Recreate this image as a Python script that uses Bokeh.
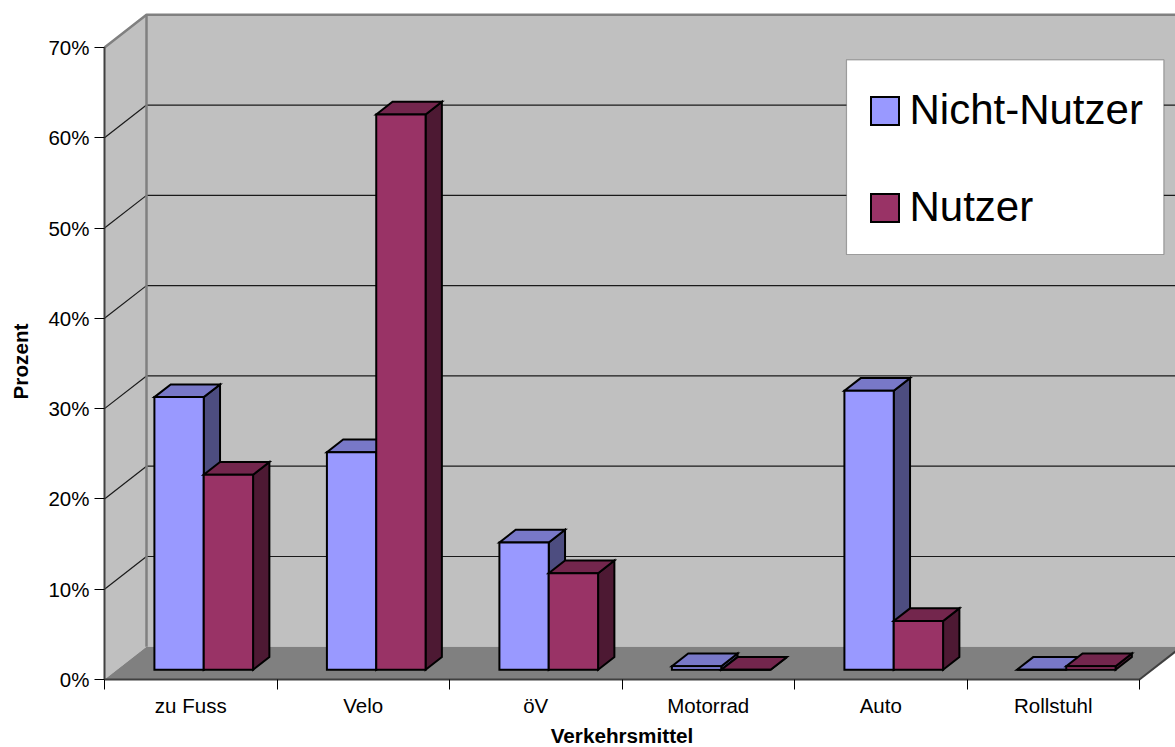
import math

from bokeh.plotting import figure
from bokeh.models import (Range1d, FixedTicker, PrintfTickFormatter, Legend,
                          LegendItem, BoxAnnotation)
from bokeh.core.properties import value
from bokeh.embed import file_html
from bokeh.resources import INLINE

# ---- data -------------------------------------------------------------
categories = ["zu Fuss", "Velo", "öV", "Motorrad", "Auto", "Rollstuhl"]
nicht_nutzer = [30.2, 24.1, 14.1, 0.4, 30.9, 0.0]
nutzer = [21.6, 61.5, 10.7, 0.0, 5.4, 0.4]
series_names = ["Nicht-Nutzer", "Nutzer"]
y_ticks = [0, 10, 20, 30, 40, 50, 60, 70]
x_title = "Verkehrsmittel"
y_title = "Prozent"

# ---- layout / 3-D projection -----------------------------------------
W, H = 1175, 747
FONT = "Liberation Sans"
TICK_SIZE = "20.5px"
TITLE_SIZE = "20.7px"
ORIGIN_PX = (104, 679)      # canvas position of the front axis corner (0, 0%)
PX_PER_CAT = 172.5          # horizontal pixels per category
PX_PER_PCT = 9.029          # vertical pixels per percent
DEPTH_X = 42 / PX_PER_CAT   # depth axis drawn obliquely (data units)
DEPTH_Y = 32.7 / PX_PER_PCT
BAR_Z = (0.297, 0.685)      # bars occupy this slice of the floor depth
BAR_OFFSET = 0.217
BAR_WIDTH = 0.286
X_TITLE_PX_Y = 735          # canvas row of the x-axis title anchor
Y_TITLE_PX = (19.5, 361)    # canvas position of the y-axis title anchor

n = len(categories)
y_max = y_ticks[-1]

FACE_COLORS = {
    "Nicht-Nutzer": ("#9999FF", "#7878C8", "#4D4D80"),
    "Nutzer": ("#993366", "#73264D", "#4D1933"),
}


def proj(x, y, z):
    return x + z * DEPTH_X, y + z * DEPTH_Y


def poly(points):
    xs, ys = zip(*(proj(*pt) for pt in points))
    return list(xs), list(ys)


def bar_faces(values, slot):
    z0, z1 = BAR_Z
    faces = {"front": ([], []), "top": ([], []), "side": ([], [])}
    for i, h in enumerate(values):
        x0 = i + BAR_OFFSET + slot * BAR_WIDTH
        x1 = x0 + BAR_WIDTH
        shapes = {
            "front": [(x0, 0, z0), (x1, 0, z0), (x1, h, z0), (x0, h, z0)],
            "top": [(x0, h, z0), (x1, h, z0), (x1, h, z1), (x0, h, z1)],
            "side": [(x1, 0, z0), (x1, 0, z1), (x1, h, z1), (x1, h, z0)],
        }
        for key, pts in shapes.items():
            xs, ys = poly(pts)
            faces[key][0].append(xs)
            faces[key][1].append(ys)
    return faces


# the frame fills the whole canvas; the axes are pinned at the origin
ox, oy = ORIGIN_PX
p = figure(width=W, height=H, output_backend="svg", toolbar_location=None,
           x_range=Range1d(-ox / PX_PER_CAT, (W - ox) / PX_PER_CAT),
           y_range=Range1d(-(H - oy) / PX_PER_PCT, oy / PX_PER_PCT),
           min_border=0)
p.outline_line_color = None
p.xgrid.visible = False
p.ygrid.visible = False
p.background_fill_color = "white"
p.border_fill_color = "white"

# ---- walls and floor --------------------------------------------------
walls = [
    poly([(0, 0, 0), (0, y_max, 0), (0, y_max, 1), (0, 0, 1)]),   # side wall
    poly([(0, 0, 1), (0, y_max, 1), (n, y_max, 1), (n, 0, 1)]),   # back wall
    poly([(0, 0, 0), (n, 0, 0), (n, 0, 1), (0, 0, 1)]),           # floor
]
p.patches([w[0] for w in walls], [w[1] for w in walls],
          fill_color=["#C0C0C0", "#C0C0C0", "#808080"], line_color=None)

# gridlines: diagonal on the side wall, horizontal on the back wall
grid_levels = y_ticks[1:-1]
gx0, gy0, gx1, gy1 = [], [], [], []
for t in grid_levels:
    a, b, c = proj(0, t, 0), proj(0, t, 1), proj(n, t, 1)
    gx0 += [a[0], b[0]]
    gy0 += [a[1], b[1]]
    gx1 += [b[0], c[0]]
    gy1 += [b[1], c[1]]
p.segment(gx0, gy0, gx1, gy1, line_color="#1a1a1a", line_width=1.2)

# wall edges
edge_top = poly([(0, y_max, 0), (0, y_max, 1), (n, y_max, 1)])
edge_back = poly([(0, 0, 1), (0, y_max, 1)])
p.multi_line([edge_top[0], edge_back[0]], [edge_top[1], edge_back[1]],
             line_color="#808080", line_width=2.5)
edge_floor = poly([(n, 0, 0), (n, 0, 1)])
p.line(edge_floor[0], edge_floor[1], line_color="#404040", line_width=2)

# ---- bars -------------------------------------------------------------
legend_items = []
for slot, (name, vals) in enumerate(zip(series_names, [nicht_nutzer, nutzer])):
    faces = bar_faces(vals, slot)
    front_c, top_c, side_c = FACE_COLORS[name]
    p.patches(*faces["side"], fill_color=side_c, line_color="black",
              line_width=2, line_join="miter")
    p.patches(*faces["top"], fill_color=top_c, line_color="black",
              line_width=2, line_join="miter")
    r = p.patches(*faces["front"], fill_color=front_c, line_color="black",
                  line_width=2, line_join="miter")
    legend_items.append(LegendItem(label=name, renderers=[r]))

# ---- axes -------------------------------------------------------------
yax = p.yaxis[0]
yax.fixed_location = 0
yax.ticker = FixedTicker(ticks=y_ticks, minor_ticks=[])
yax.formatter = PrintfTickFormatter(format="%d%%")
yax.bounds = (0, y_max)
yax.axis_line_color = "#404040"
yax.axis_line_width = 2
yax.major_tick_in = 0
yax.major_tick_out = 10
yax.major_tick_line_color = "black"
yax.major_label_standoff = 5
yax.major_label_text_font = FONT
yax.major_label_text_font_size = TICK_SIZE
yax.major_label_text_color = "black"

centers = [i + 0.5 for i in range(n)]
xax = p.xaxis[0]
xax.fixed_location = 0
xax.ticker = FixedTicker(ticks=centers, minor_ticks=list(range(n + 1)))
xax.major_label_overrides = {c: lab for c, lab in zip(centers, categories)}
xax.bounds = (0, n)
xax.axis_line_color = "#404040"
xax.axis_line_width = 2
xax.major_tick_line_color = None
xax.major_tick_in = 0
xax.major_tick_out = 0
xax.minor_tick_in = 0
xax.minor_tick_out = 10
xax.minor_tick_line_color = "black"
xax.major_label_standoff = 4
xax.major_label_text_font = FONT
xax.major_label_text_font_size = TICK_SIZE
xax.major_label_text_color = "black"

# axis titles, placed in pixel offsets from the origin
p.text(x=[n / 2], y=[-(X_TITLE_PX_Y - oy) / PX_PER_PCT], text=[x_title],
       text_align="center", text_baseline="alphabetic",
       text_font=value(FONT), text_font_size=TITLE_SIZE,
       text_font_style="bold", text_color="black")
p.text(x=[-(ox - Y_TITLE_PX[0]) / PX_PER_CAT], y=[(oy - Y_TITLE_PX[1]) / PX_PER_PCT],
       text=[y_title], angle=math.pi / 2, text_align="center",
       text_baseline="alphabetic", text_font=value(FONT),
       text_font_size=TITLE_SIZE, text_font_style="bold", text_color="black")

# ---- legend -----------------------------------------------------------
p.add_layout(BoxAnnotation(left=846, right=1163.3, bottom=H - 254, top=H - 59.3,
                           left_units="screen", right_units="screen",
                           bottom_units="screen", top_units="screen",
                           fill_color="white", fill_alpha=1.0,
                           line_color="black", line_width=1.2))
legend = Legend(items=legend_items, location=(866.5, H - 231), margin=0, padding=0,
                spacing=49, glyph_width=35, glyph_height=35, label_standoff=8,
                label_text_font=FONT, label_text_font_size="42px",
                label_text_color="black", border_line_color=None,
                background_fill_color=None)
p.add_layout(legend)

open("out.html", "w").write(file_html(p, INLINE))
